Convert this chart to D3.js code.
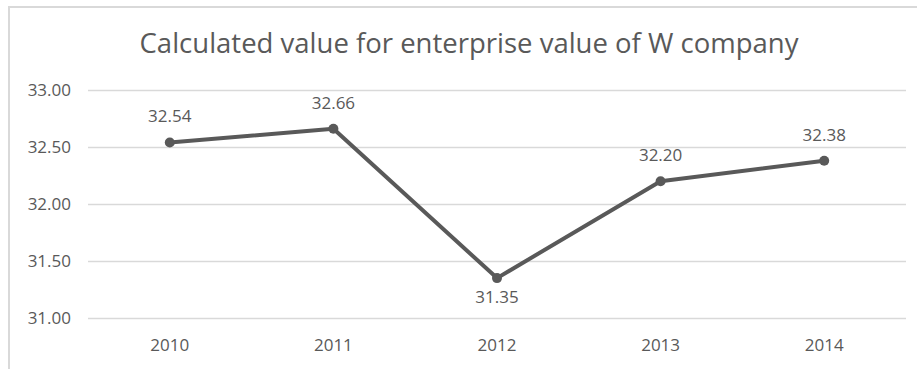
<!DOCTYPE html>
<html><head><meta charset="utf-8">
<script src="https://cdn.jsdelivr.net/npm/d3@7"></script>
<style>body{margin:0;background:#fff}svg{display:block}text{font-family:"Open Sans","Liberation Sans",sans-serif;fill:#595959}</style>
</head><body><svg id="c" width="917" height="369"></svg>
<script>
const years = ["2010","2011","2012","2013","2014"];
const values = [32.54, 32.66, 31.35, 32.20, 32.38];
const yTicks = [31.0, 31.5, 32.0, 32.5, 33.0];
const title = "Calculated value for enterprise value of W company";

const svg = d3.select("#c");
const W = 917, H = 369;
const m = {left: 88, right: 11, top: 90, bottom: 51};
svg.append("rect").attr("x",9).attr("y",7).attr("width",950).attr("height",400)
  .attr("fill","#fff").attr("stroke","#d9d9d9").attr("stroke-width",2);
const x = d3.scaleBand().domain(years).range([m.left, W-m.right]);
const y = d3.scaleLinear().domain([31,33]).range([318, 90]);

svg.append("text").attr("x",469).attr("y",53).attr("text-anchor","middle")
  .style("font-size","27.5px").text(title);

const gy = svg.append("g").attr("transform",`translate(${m.left},0)`)
  .call(d3.axisLeft(y).tickValues(yTicks).tickSize(-(W-m.right-m.left)).tickFormat(d3.format(".2f")).tickPadding(17));
gy.select(".domain").remove();
gy.selectAll(".tick line").attr("stroke","#d9d9d9").attr("stroke-width",1.3);
gy.selectAll(".tick text").style("font-size","17px").attr("fill","#595959");

const gx = svg.append("g").attr("transform",`translate(0,318)`)
  .call(d3.axisBottom(x).tickSize(0).tickPadding(21));
gx.select(".domain").remove();
gx.selectAll(".tick text").style("font-size","17px").attr("fill","#595959");

const cx = d => x(d) + x.bandwidth()/2;
const line = d3.line().x((d,i)=>cx(years[i])).y(d=>y(d));
svg.append("path").datum(values).attr("d",line).attr("fill","none")
  .attr("stroke","#595959").attr("stroke-width",4).attr("stroke-linejoin","round");
svg.selectAll("circle.p").data(values).enter().append("circle")
  .attr("cx",(d,i)=>cx(years[i])).attr("cy",d=>y(d)).attr("r",5).attr("fill","#595959");
svg.selectAll("text.l").data(values).enter().append("text")
  .attr("text-anchor","middle").style("font-size","17px")
  .attr("x",(d,i)=>cx(years[i]))
  .attr("y",(d,i)=> i===2 ? y(d)+25 : y(d)-20)
  .text(d=>d3.format(".2f")(d));
</script></body></html>
